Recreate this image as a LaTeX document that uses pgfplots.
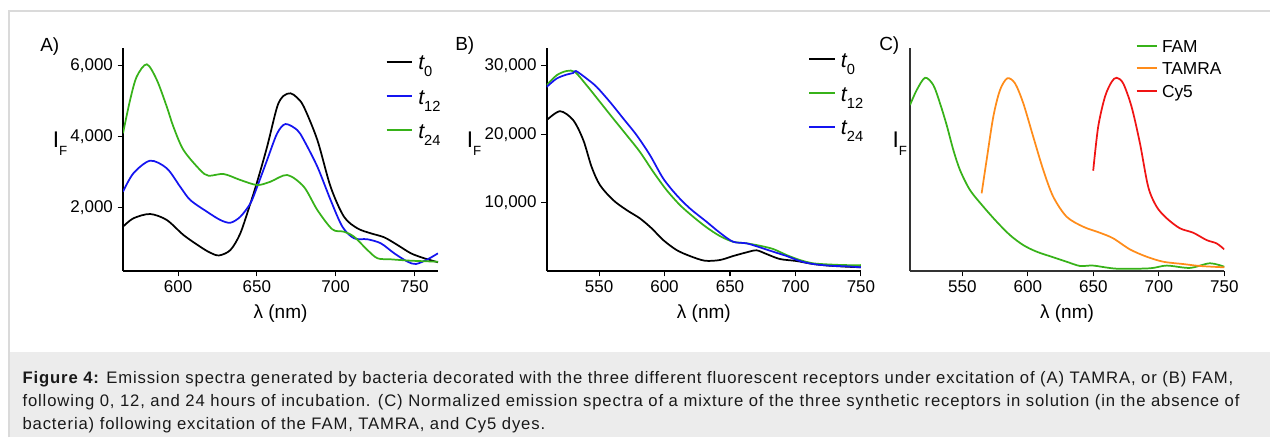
\documentclass[border=0pt]{standalone}
\usepackage{fontspec}
\setmainfont{Liberation Sans}
\newfontfamily\capfont[LetterSpace=5.2]{Liberation Sans}
\usepackage{pgfplots}
\pgfplotsset{compat=1.18}
\definecolor{cgreen}{RGB}{55,178,25}
\definecolor{cblue}{RGB}{20,20,240}
\definecolor{corange}{RGB}{255,140,26}
\definecolor{cred}{RGB}{240,20,20}
\definecolor{capbg}{RGB}{236,236,236}
\definecolor{framec}{RGB}{218,218,218}
\pgfplotsset{
  panel/.style={
    scale only axis, anchor=south west,
    axis lines=left, axis line style={-, line width=1.3pt},
    height=167.25pt,
    tick align=outside, major tick length=4pt,
    tick style={line width=0.8pt, black},
    ticklabel style={font=\fontsize{12.75pt}{14pt}\selectfont},
    scaled ticks=false,
  },
  curve/.style={line width=1.3pt, smooth, tension=0.5, no marks},
}
\newcommand{\tsub}[1]{{\fontsize{16pt}{18pt}\selectfont\itshape t}\raisebox{-5.25pt}{\fontsize{11pt}{12pt}\selectfont #1}}
\newcommand{\IF}{{\fontsize{17pt}{19pt}\selectfont I}\raisebox{-6pt}{\fontsize{10pt}{11pt}\selectfont F}}
\begin{document}
\begin{tikzpicture}
\path[use as bounding box, fill=white] (0pt,0pt) rectangle (952.5pt,327.75pt);
\fill[capbg] (7.5pt,0pt) rectangle (952.5pt,63.75pt);
\draw[framec, line width=0.8pt] (6.75pt,0pt) -- (6.75pt,319.5pt) -- (952.5pt,319.5pt);

% ---------------- Panel A
\begin{axis}[panel, at={(92.25pt,124.5pt)}, width=236.25pt,
  xmin=565, xmax=765, ymin=200, ymax=6500,
  xtick={600,650,700,750}, xticklabels={600,650,700,750},
  ytick={2000,4000,6000}, yticklabels={{2,000},{4,000},{6,000}}]
\addplot[curve, black] coordinates {
(565,1451)(571.6,1689)(582.2,1810)(592.8,1641)(603.4,1217)(614,886)(620.4,717)
(626,640)(633.2,793)(639.5,1265)(645.9,2112)(650.2,2723)(656.5,3711)(662.9,4841)
(667,5150)(671.4,5220)(675.5,5100)(679.8,4841)(688.4,3900)(696.8,2581)(705.3,1734)
(713.8,1406)(722.3,1265)(730.8,1152)(739.3,934)(747.8,700)(756.3,559)(765,446)};
\addplot[curve, cblue] coordinates {
(565,2440)(571.6,2960)(582.2,3316)(592.8,3101)(601.3,2581)(607.7,2206)(618.3,1875)
(626.8,1641)(633.2,1564)(639.5,1734)(645.9,2112)(650.2,2581)(656.5,3336)(662.9,4090)
(668.2,4352)(675.6,4183)(679.8,3900)(688.4,3147)(696.8,2206)(704.3,1451)(711.7,1124)
(720.2,1096)(728.7,982)(737.2,700)(745.7,463)(751,398)(758.4,530)(765,700)};
\addplot[curve, cgreen] coordinates {
(565,4090)(569.5,5030)(573.7,5690)(580.1,6040)(586.5,5595)(592.8,4841)(597,4276)
(603.4,3618)(614,3053)(619.3,2892)(628.9,2940)(639.5,2771)(650.2,2629)(658.6,2723)
(669.3,2912)(679.8,2581)(688.4,1923)(697.9,1378)(705.3,1310)(711.7,1169)(720.2,793)
(726.6,559)(735,530)(747.8,491)(765,463)};
\end{axis}

% ---------------- Panel B
\begin{axis}[panel, at={(410pt,124.5pt)}, width=235.7pt,
  xmin=510, xmax=750, ymin=0, ymax=32600,
  xtick={550,600,650,700,750}, xticklabels={550,600,650,700,750},
  ytick={10000,20000,30000}, yticklabels={{10,000},{20,000},{30,000}}]
\addplot[curve, black] coordinates {
(510,22044)(520.2,23360)(530.3,22044)(538,19124)(544.3,15230)(550.7,12555)(560.8,10365)
(571.1,8905)(581.2,7693)(590.2,6233)(599,4526)(609.2,3066)(619.4,2190)(630.8,1504)
(642.3,1606)(652.4,2190)(662.7,2730)(670.3,3022)(677.9,2482)(688.1,1752)(700.8,1460)
(713.5,1022)(726.3,774)(739,628)(750,540)};
\addplot[curve, cgreen] coordinates {
(510,27153)(517.6,28613)(525.3,29240)(531.6,29095)(540.5,27153)(550.7,24715)(560.8,22290)
(571.1,19854)(581.2,17416)(591.4,14496)(601.6,11825)(611.8,9635)(621.9,7927)(632.1,6380)
(642.3,5110)(652.4,4277)(662.7,4044)(672.8,3693)(683,3212)(693.2,2336)(703.4,1606)
(713.5,1124)(726.3,949)(739,861)(750,861)};
\addplot[curve, cblue] coordinates {
(510,26905)(517.6,28131)(525.3,28715)(530.3,28949)(532.4,29240)(540.5,28131)(548.2,26905)
(558.3,24715)(568.5,22290)(578.7,19854)(588.9,16934)(599,13528)(609.2,11095)(619.4,9148)
(632.1,7197)(642.3,5591)(652.4,4277)(662.7,4044)(672.8,3460)(683,2818)(693.2,2190)
(703.4,1460)(713.5,1022)(726.3,774)(739,686)(750,540)};
\end{axis}

% ---------------- Panel C
\begin{axis}[panel, at={(682.5pt,124.5pt)}, width=235.7pt,
  axis line style={-, line width=1.3pt, black!80},
  xmin=510, xmax=750, ymin=0, ymax=1.154,
  xtick={550,600,650,700,750}, xticklabels={550,600,650,700,750},
  ytick=\empty]
\addplot[curve, cgreen] coordinates {
(510,0.859)(515.1,0.936)(521.5,1.0)(527.8,0.962)(532.9,0.868)(538,0.755)(543.1,0.626)
(548.2,0.522)(555.8,0.419)(566,0.333)(576.2,0.255)(586.3,0.186)(596.5,0.134)(606.7,0.100)
(619.4,0.071)(629.6,0.048)(639.8,0.026)(649.9,0.028)(667.8,0.012)(693.2,0.014)(706,0.028)
(723.7,0.016)(739,0.040)(750,0.022)};
\addplot[curve, corange] coordinates {
(564.7,0.402)(568.5,0.574)(573.6,0.798)(578.7,0.936)(584.3,0.997)(590.2,0.971)(596.5,0.868)
(604.1,0.695)(611.8,0.522)(619.4,0.384)(629.6,0.281)(642.3,0.229)(655,0.198)(665.2,0.169)
(677.9,0.112)(690.7,0.074)(703.4,0.048)(718.6,0.036)(731.4,0.026)(750,0.019)};
\addplot[curve, cred] coordinates {
(649.9,0.519)(653.7,0.746)(658.9,0.902)(664,0.979)(667.8,1.0)(672.8,0.971)(679.2,0.850)
(685.6,0.661)(691.9,0.436)(698.3,0.333)(706,0.273)(716.1,0.221)(726.3,0.198)(736.5,0.160)
(744.1,0.143)(750,0.112)};
\end{axis}

% ---------------- labels
\begin{scope}[every node/.style={inner sep=0pt}]
\node[anchor=base west, font=\fontsize{14.25pt}{16pt}\selectfont] at (30pt,289pt) {A)};
\node[anchor=base west, font=\fontsize{14.25pt}{16pt}\selectfont] at (341.25pt,290pt) {B)};
\node[anchor=base west, font=\fontsize{14.25pt}{16pt}\selectfont] at (659.25pt,290pt) {C)};
\node[anchor=base west] at (39.5pt,217pt) {\IF};
\node[anchor=base west] at (350pt,217pt) {\IF};
\node[anchor=base west] at (669.2pt,217pt) {\IF};
\node[anchor=base, font=\fontsize{14.25pt}{16pt}\selectfont] at (210.4pt,89.25pt) {λ (nm)};
\node[anchor=base, font=\fontsize{14.25pt}{16pt}\selectfont] at (527.9pt,89.25pt) {λ (nm)};
\node[anchor=base, font=\fontsize{14.25pt}{16pt}\selectfont] at (800.25pt,89.25pt) {λ (nm)};
% legend A
\draw[black, line width=1.3pt] (290pt,281.5pt) -- (308.8pt,281.5pt);
\draw[cblue, line width=1.3pt] (290pt,255.75pt) -- (308.8pt,255.75pt);
\draw[cgreen, line width=1.3pt] (290pt,230.25pt) -- (308.8pt,230.25pt);
\node[anchor=base west] at (313.5pt,275.5pt) {\tsub{0}};
\node[anchor=base west] at (313.5pt,249.75pt) {\tsub{12}};
\node[anchor=base west] at (313.5pt,224.25pt) {\tsub{24}};
% legend B
\draw[black, line width=1.3pt] (607pt,283.3pt) -- (626.25pt,283.3pt);
\draw[cgreen, line width=1.3pt] (607pt,257.8pt) -- (626.25pt,257.8pt);
\draw[cblue, line width=1.3pt] (607pt,232.7pt) -- (626.25pt,232.7pt);
\node[anchor=base west] at (630.5pt,277.3pt) {\tsub{0}};
\node[anchor=base west] at (630.5pt,251.8pt) {\tsub{12}};
\node[anchor=base west] at (630.5pt,226.7pt) {\tsub{24}};
% legend C
\draw[cgreen, line width=1.3pt] (852.5pt,293.25pt) -- (867.5pt,293.25pt);
\draw[corange, line width=1.3pt] (852.5pt,276.5pt) -- (867.5pt,276.5pt);
\draw[cred, line width=1.3pt] (852.5pt,259.7pt) -- (867.5pt,259.7pt);
\node[anchor=base west, font=\fontsize{13pt}{15pt}\selectfont] at (871.3pt,288.5pt) {FAM};
\node[anchor=base west, font=\fontsize{13pt}{15pt}\selectfont] at (871.3pt,271.8pt) {TAMRA};
\node[anchor=base west, font=\fontsize{13pt}{15pt}\selectfont] at (871.3pt,255pt) {Cy5};
% caption
\begin{scope}[every node/.style={inner sep=0pt, anchor=base west, font=\capfont\fontsize{12.5pt}{17pt}\selectfont, text=black!90}]
\node at (16.7pt,40.3pt) {{\bfseries Figure 4:} Emission spectra generated by bacteria decorated with the three different fluorescent receptors under excitation of (A) TAMRA, or (B) FAM,};
\node at (16.7pt,23.0pt) {following 0, 12, and 24 hours of incubation. (C) Normalized emission spectra of a mixture of the three synthetic receptors in solution (in the absence of};
\node at (16.7pt,5.8pt) {bacteria) following excitation of the FAM, TAMRA, and Cy5 dyes.};
\end{scope}
\end{scope}
\end{tikzpicture}
\end{document}
